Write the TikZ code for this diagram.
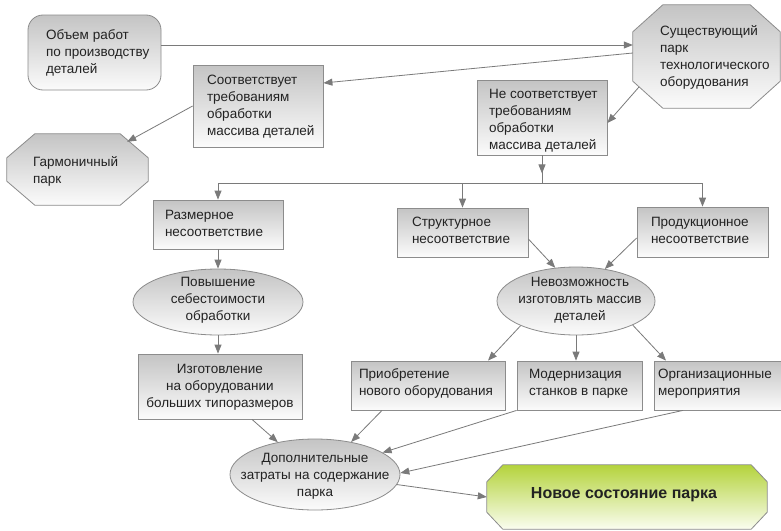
\documentclass[tikz,border=0pt]{standalone}
\usepackage{fontspec}
\setmainfont{Liberation Sans}
\usetikzlibrary{shapes.geometric,arrows.meta,calc,backgrounds}
\definecolor{gtop}{HTML}{C4C4C4}
\definecolor{gbot}{HTML}{FBFBFB}
\definecolor{bord}{HTML}{8C8C8C}
\definecolor{arrc}{HTML}{7A7A7A}
\definecolor{grtop}{HTML}{B4D33C}
\definecolor{grbot}{HTML}{FAFDF0}
\definecolor{txt}{HTML}{222222}
% text block: #1 alignment (l/c), #2 horizontal offset, #3 downward offset, #4 lines
\newcommand\tb[4]{\makebox[0pt][#1]{\hspace*{#2pt}\raisebox{\dimexpr-#3pt-3.3pt\relax}[0pt][0pt]{\begin{tabular}{@{}#1@{}}#4\end{tabular}}}}
\tikzset{
  base/.style={inner sep=0pt, text=txt, font=\fontsize{13.5}{17}\selectfont},
  gbox/.style={base, rectangle, draw=bord, line width=0.8pt, top color=gtop, bottom color=gbot},
  gell/.style={base, ellipse, draw=bord, line width=0.8pt, top color=gtop, bottom color=gbot},
  plain/.style={base, rectangle},
  octgray/.style={draw=bord, line width=0.8pt, top color=gtop, bottom color=gbot},
  octgreen/.style={draw=bord, line width=0.8pt, top color=grtop, bottom color=grbot},
  arr/.style={draw=arrc, line width=0.8pt, -{Triangle[length=9pt,width=7pt]}},
  ln/.style={draw=arrc, line width=0.8pt}
}
\newcommand\octo[4]{\path[#4] ([xshift=#2pt]#1.north west) -- ([xshift=-#2pt]#1.north east) -- ([yshift=-#3pt]#1.north east) -- ([yshift=#3pt]#1.south east) -- ([xshift=-#2pt]#1.south east) -- ([xshift=#2pt]#1.south west) -- ([yshift=#3pt]#1.south west) -- ([yshift=-#3pt]#1.north west) -- cycle;}
\begin{document}
\begin{tikzpicture}[x=1pt,y=-1pt]
\useasboundingbox (0,0) rectangle (781,530);

% nodes
\node[gbox, rounded corners=15pt, minimum width=133pt, minimum height=75pt] (obj) at (94.5,52.5)
  {\tb{l}{-48.5}{1}{Объем работ\\по производству\\деталей}};
\node[plain, minimum width=147pt, minimum height=103pt] (exist) at (706.5,56.5)
  {\tb{l}{-46.5}{1}{Существующий\\парк\\технологического\\оборудования}};
\node[gbox, minimum width=130pt, minimum height=82pt] (sootv) at (258,106)
  {\tb{l}{-51}{1}{Соответствует\\требованиям\\обработки\\массива деталей}};
\node[gbox, minimum width=130pt, minimum height=75pt] (nesootv) at (542,117.5)
  {\tb{l}{-53}{3}{Не соответствует\\требованиям\\обработки\\массива деталей}};
\node[plain, minimum width=141pt, minimum height=71pt] (garm) at (77.5,169.5)
  {\tb{l}{-44.5}{2}{Гармоничный\\парк}};
\node[gbox, minimum width=130pt, minimum height=49pt] (razm) at (218,224.5)
  {\tb{l}{-53}{0}{Размерное\\несоответствие}};
\node[gbox, minimum width=131pt, minimum height=49pt] (strukt) at (462.5,232.5)
  {\tb{l}{-50.5}{-1}{Структурное\\несоответствие}};
\node[gbox, minimum width=131pt, minimum height=50pt] (prod) at (702.5,232)
  {\tb{l}{-51.5}{-0.5}{Продукционное\\несоответствие}};
\node[gell, minimum width=170pt, minimum height=66pt] (povysh) at (218,302)
  {\tb{c}{0}{-2}{Повышение\\себестоимости\\обработки}};
\node[gell, minimum width=158pt, minimum height=68pt] (nevozm) at (576,301)
  {\tb{c}{8}{-0.5}{Невозможность\\изготовлять массив\\деталей}};
\node[gbox, minimum width=164pt, minimum height=65pt] (izgot) at (220,386.5)
  {\tb{c}{0}{1}{Изготовление\\на оборудовании\\больших типоразмеров}};
\node[gbox, minimum width=154pt, minimum height=49pt] (priobr) at (428,385.5)
  {\tb{l}{-69}{-1.5}{Приобретение\\нового оборудования}};
\node[gbox, minimum width=125pt, minimum height=49pt] (modern) at (579.5,385.5)
  {\tb{l}{-50.5}{-1.5}{Модернизация\\станков в парке}};
\node[gbox, minimum width=136pt, minimum height=49pt] (org) at (722,385.5)
  {\tb{l}{-64}{-1.5}{Организационные\\мероприятия}};
\node[gell, minimum width=170pt, minimum height=71pt] (dop) at (315,474.5)
  {\tb{c}{0}{1.5}{Дополнительные\\затраты на содержание\\парка}};
\node[plain, minimum width=280pt, minimum height=64pt, font=\bfseries\fontsize{16}{19}\selectfont] (novoe) at (627,497)
  {\tb{c}{-6}{-1}{Новое состояние парка}};

% octagon outlines behind their texts
\begin{scope}[on background layer]
  \fill[white] (0,0) rectangle (781,530);
  \octo{exist}{30}{27}{octgray}
  \octo{garm}{28}{24}{octgray}
  \octo{novoe}{16}{17}{octgreen}
\end{scope}

% connectors
\coordinate (bus) at (542,183);
\draw[arr] ([yshift=7.5pt]obj.east) -- ([yshift=7.5pt]obj.east -| exist.west);
\draw[arr] ([yshift=3.5pt]exist.west) -- ([yshift=23pt]sootv.east);
\draw[arr] ([xshift=6pt,yshift=21pt]exist.south west) -- ([yshift=-5.5pt]nesootv.east);
\draw[arr] (sootv.west) -- ([xshift=-21pt,yshift=-8pt]garm.north east);
\draw[ln] (nesootv.south) -- (nesootv.south |- bus);
\draw[arr] (nesootv.south) -- ++(0,18);
\draw[ln] (razm.north |- bus) -- (prod.north |- bus);
\draw[arr] (razm.north |- bus) -- (razm.north);
\draw[arr] (strukt.north |- bus) -- (strukt.north);
\draw[arr] (prod.north |- bus) -- (prod.north);
\draw[arr] (razm.south) -- (povysh.north);
\draw[arr] (povysh.south) -- (povysh.south |- izgot.north);
\draw[arr] ([yshift=-6.5pt]strukt.east) -- (nevozm.122);
\draw[arr] ([yshift=-6pt]prod.west) -- (nevozm.48);
\draw[arr] (nevozm.204) -- ([xshift=60pt]priobr.north);
\draw[arr] (nevozm.south) -- (nevozm.south |- modern.north);
\draw[arr] (nevozm.337) -- ([xshift=-56pt]org.north);
\draw[arr] ([xshift=32pt]izgot.south) -- (dop.139);
\draw[arr] ([xshift=-46pt]priobr.south) -- (dop.42);
\draw[arr] (modern.south west) -- (dop.18);
\draw[arr] ([xshift=-39pt]org.south) -- (dop.1);
\draw[arr] (dop.353) -- (novoe.west);
\end{tikzpicture}
\end{document}
